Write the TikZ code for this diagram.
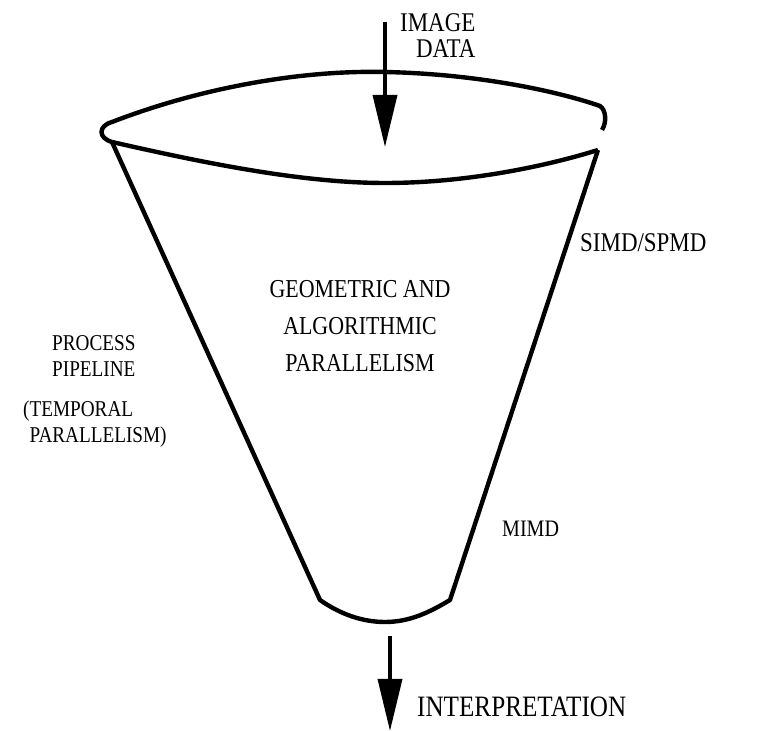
\documentclass[tikz,border=0pt]{standalone}
\usepackage{fontspec}
\setmainfont{Liberation Serif}
\newfontfamily\scanfont[FakeStretch=0.85]{Liberation Serif}
\usetikzlibrary{arrows.meta}

\begin{document}
\begin{tikzpicture}[x=0.5pt,y=-0.5pt,line width=2.2pt,
    flow/.style={line width=1.8pt,-{Triangle[length=26pt,width=12pt]}},
    lbl/.style={font=\scanfont\fontsize{13.5}{13}\selectfont,inner sep=0pt},
    side/.style={lbl,align=left,anchor=west,font=\scanfont\fontsize{11.3}{13}\selectfont}]
  \useasboundingbox (0,0) rectangle (767,731);
  \coordinate (TL) at (112,142);
  \coordinate (TR) at (598,150);
  \coordinate (BL) at (320,600);
  \coordinate (BR) at (450,600);
  % open rim
  \draw (TL) .. controls (98,138) and (98,126) .. (112,122)
    .. controls (200,88) and (300,70) .. (385,72)
    .. controls (480,74) and (560,92) .. (600,106)
    .. controls (606,110) and (607,122) .. (602,130);
  \draw (TL) .. controls (200,162) and (300,183) .. (385,183)
    .. controls (470,183) and (550,165) .. (TR);
  % funnel body
  \draw[line join=round] (TL) -- (BL) .. controls (340,614) and (362,622) .. (385,622)
    .. controls (410,622) and (430,612) .. (BR) -- (TR);
  % data in and out
  \coordinate (inS) at (385,22);
  \coordinate (inE) at (385,147);
  \coordinate (outS) at (390,636);
  \coordinate (outE) at (390,731);
  \draw[flow] (inS) -- (inE);
  \draw[flow] (outS) -- (outE);
  \node[lbl,align=right,anchor=north west] (imgdata) at (398,11) {IMAGE\\DATA};
  \node[lbl,anchor=west,font=\scanfont\fontsize{14.8}{13}\selectfont] (interp) at (415,707) {INTERPRETATION};
  \node[lbl,align=center,text depth=0pt,font=\scanfont\fontsize{12.9}{18.5}\selectfont] (geom) at (360,326)
    {GEOMETRIC AND\\ALGORITHMIC\\PARALLELISM};
  \node[lbl,anchor=west] (simd) at (578,243) {SIMD/SPMD};
  \node[lbl,anchor=west,font=\scanfont\fontsize{11.8}{13}\selectfont] (mimd) at (500,529) {MIMD};
  \node[side] (pipe) at (50,356) {PROCESS\\PIPELINE};
  \node[side] (temporal) at (21,424) {(TEMPORAL\\\phantom{(}PARALLELISM)};
\end{tikzpicture}
\end{document}
